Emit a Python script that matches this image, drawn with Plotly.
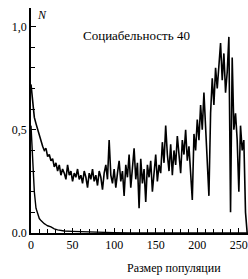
import plotly.graph_objects as go

# Population size (x) for main curve
x_main = list(range(0, 262, 2))
n_main = [0.72, 0.62, 0.56, 0.53, 0.50, 0.47, 0.45, 0.42, 0.40, 0.41,
          0.37, 0.38, 0.35, 0.36, 0.32, 0.34, 0.30, 0.33, 0.28, 0.31,
          0.29, 0.26, 0.33, 0.28, 0.30, 0.25, 0.29, 0.27, 0.31, 0.26,
          0.28, 0.24, 0.30, 0.27, 0.22, 0.29, 0.26, 0.31, 0.25, 0.28,
          0.23, 0.30, 0.27, 0.21, 0.29, 0.33, 0.26, 0.45, 0.28, 0.24,
          0.31, 0.22, 0.29, 0.35, 0.25, 0.30, 0.18, 0.33, 0.27, 0.38,
          0.22, 0.30, 0.41, 0.26, 0.34, 0.12, 0.36, 0.24, 0.31, 0.15,
          0.33, 0.27, 0.35, 0.20, 0.30, 0.38, 0.25, 0.33, 0.29, 0.44,
          0.34, 0.52, 0.38, 0.30, 0.43, 0.28, 0.40, 0.33, 0.47, 0.36,
          0.29, 0.45, 0.38, 0.50, 0.35, 0.42, 0.30, 0.16, 0.48, 0.40,
          0.55, 0.45, 0.62, 0.50, 0.68, 0.52, 0.40, 0.18, 0.58, 0.75,
          0.62, 0.80, 0.70, 0.80, 0.92, 0.74, 0.87, 0.68, 0.78, 0.95,
          0.10, 0.85, 0.50, 0.58, 0.45, 0.20, 0.52, 0.40, 0.45, 0.10,
          0.00]

x_low = [0, 1, 2, 3, 4, 6, 8, 10, 12, 14, 16, 18, 20, 24, 28, 32, 36, 40,
         50, 60, 70, 80, 90, 100, 110, 120, 260]
n_low = [0.52, 0.45, 0.36, 0.26, 0.20, 0.12, 0.09, 0.07, 0.06, 0.05, 0.045,
         0.04, 0.035, 0.03, 0.02, 0.015, 0.012, 0.01, 0.008, 0.006, 0.005,
         0.004, 0.003, 0.002, 0.001, 0.0, 0.0]

y_tickvals = [0.0, 0.5, 1.0]
y_ticktext = ["0.0", "0,5", "1,0"]
x_tickvals = [0, 50, 100, 150, 200, 250]
x_ticktext = ["0", "50", "100", "150", "200", "250"]

title_text = "Социабельность 40"
x_title = "Размер популяции"
y_title = "N"

FONT = "Liberation Serif, Times New Roman, serif"

fig = go.Figure()
fig.add_trace(go.Scatter(x=x_main, y=n_main, mode="lines",
                         line=dict(color="black", width=1.6),
                         showlegend=False, hoverinfo="skip"))
fig.add_trace(go.Scatter(x=x_low, y=n_low, mode="lines",
                         line=dict(color="black", width=1.4),
                         showlegend=False, hoverinfo="skip"))

fig.update_layout(
    width=248, height=279,
    margin=dict(l=31, r=0, t=8, b=46, autoexpand=False),
    paper_bgcolor="white", plot_bgcolor="white",
    font=dict(family=FONT, size=12, color="black"),
    xaxis=dict(range=[0, 261], showgrid=False, zeroline=False, automargin=False,
               showline=True, linecolor="black", linewidth=1.5,
               tickmode="array", tickvals=x_tickvals, ticktext=x_ticktext,
               ticks="inside", ticklen=5, tickwidth=1, tickcolor="black",
               minor=dict(dtick=10, ticks="inside", ticklen=4, tickcolor="black"),
               tickfont=dict(family=FONT, size=12)),
    yaxis=dict(range=[0, 1.09], showgrid=False, zeroline=False, automargin=False,
               showline=True, linecolor="black", linewidth=1.5,
               tickmode="array", tickvals=y_tickvals, ticktext=y_ticktext,
               ticks="inside", ticklen=5, tickwidth=1, tickcolor="black",
               minor=dict(dtick=0.1, ticks="inside", ticklen=4, tickcolor="black"),
               tickfont=dict(family=FONT, size=12)),
    annotations=[
        dict(text=title_text, xref="paper", yref="paper", x=0.486, y=0.88,
             xanchor="center", yanchor="middle",
             showarrow=False, font=dict(family=FONT, size=13)),
        dict(text=x_title, xref="paper", yref="paper", x=0.659, y=-0.156,
             xanchor="center", yanchor="middle",
             showarrow=False, font=dict(family=FONT, size=12)),
        dict(text="<i>" + y_title + "</i>", xref="paper", yref="paper",
             x=0.05, y=0.969, xanchor="center", yanchor="middle",
             showarrow=False, font=dict(family=FONT, size=12)),
    ],
)

fig.write_html("out.html", config={"displayModeBar": False},
               post_script="document.body.style.margin='0';document.body.style.overflow='hidden';")
